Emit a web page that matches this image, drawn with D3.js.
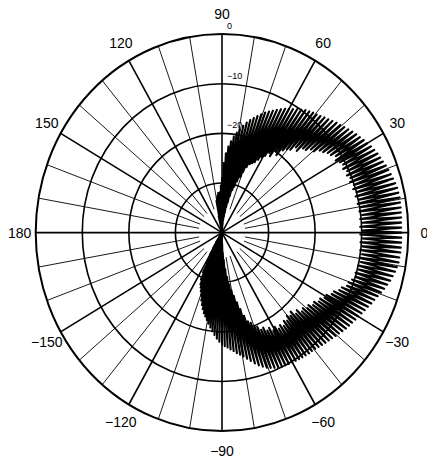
<!DOCTYPE html>
<html>
<head>
<meta charset="utf-8">
<script src="https://cdn.jsdelivr.net/npm/d3@7"></script>
<style>
  html, body { margin: 0; padding: 0; background: #fff; }
  svg { display: block; }
</style>
</head>
<body>
<svg id="chart" width="427" height="466"></svg>
<script>
// ---- data -------------------------------------------------------------
// angular tick labels (degrees)
const angleTicks = [0, 30, 60, 90, 120, 150, 180, -150, -120, -90, -60, -30];
const angleTickText = ["0", "30", "60", "90", "120", "150", "180", "\u2212150", "\u2212120", "\u221290", "\u221260", "\u221230"];
// level rings (dB) and their labels
const ringLevels = [0, -10, -20, -30];
const ringText = ["0", "\u221210", "\u221220", "\u221230"];

// measured pattern: lobe maxima every 1.5 deg starting at 102 deg,
// minima sit half-way between consecutive maxima
const peakStartDeg = 102;
const peakStepDeg = 1.5;
const peakDb = [
  -36.5, -33.5, -33.0, -32.5, -32.0, -32.2, -31.8, -30.5, -29.0, -26.0,
  -24.0, -22.6, -21.5, -20.5, -19.6, -18.8, -18.0, -17.2, -16.5, -15.9,
  -15.3, -14.7, -14.1, -13.6, -13.1, -12.6, -12.1, -11.6, -11.2, -10.8,
  -10.3, -9.9, -9.5, -9.2, -8.9, -8.7, -8.4, -8.0, -7.7, -7.3,
  -6.9, -6.6, -6.2, -5.8, -5.4, -5.0, -4.7, -4.3, -4.0, -3.6,
  -3.3, -3.0, -2.8, -2.6, -2.3, -2.1, -1.9, -1.7, -1.5, -1.3,
  -1.3, -1.2, -1.3, -1.3, -1.4, -1.4, -1.5, -1.5, -1.5, -1.5,
  -1.5, -1.5, -1.5, -1.6, -1.6, -1.8, -2.0, -2.3, -2.6, -3.0,
  -3.4, -3.8, -4.2, -4.6, -4.9, -5.3, -5.6, -5.9, -6.2, -6.4,
  -6.7, -6.9, -7.1, -7.4, -7.7, -7.9, -8.2, -8.4, -8.6, -8.8,
  -9.0, -9.2, -9.3, -9.3, -9.4, -9.5, -9.6, -9.7, -9.8, -9.9,
  -10.0, -10.1, -10.3, -10.5, -10.8, -11.1, -11.6, -12.1, -12.7, -13.4,
  -14.0, -14.6, -15.1, -15.5, -16.0, -16.4, -16.8, -17.1, -17.5, -18.0,
  -18.6, -19.3, -20.0, -20.7, -21.4, -22.1, -22.7, -23.3, -24.0, -24.8,
  -25.6, -26.5, -27.3, -28.0, -28.6, -29.5, -31.0, -33.0, -34.8, -36.3,
  -37.6, -38.8, -40.0
];
const dipDb = [
  -40.0, -40.0, -40.0, -40.0, -40.0, -40.0, -40.0, -40.0, -39.5, -39.0,
  -38.5, -37.5, -36.8, -36.0, -34.8, -33.8, -32.5, -31.2, -30.4, -29.2,
  -28.2, -27.0, -25.8, -25.0, -24.6, -24.2, -23.4, -22.6, -22.0, -21.0,
  -21.5, -20.0, -20.5, -18.9, -18.2, -17.8, -16.6, -17.0, -15.7, -15.5,
  -14.6, -14.4, -13.3, -12.9, -12.2, -11.9, -11.1, -11.6, -11.0, -10.6,
  -11.0, -10.4, -10.8, -10.3, -10.7, -10.1, -10.5, -10.0, -10.4, -9.9,
  -10.3, -9.8, -10.2, -9.7, -10.2, -9.8, -10.3, -9.9, -10.3, -9.8,
  -10.2, -9.7, -10.1, -9.6, -10.0, -9.6, -10.0, -9.7, -10.2, -10.0,
  -10.5, -11.0, -11.1, -12.0, -12.3, -13.2, -13.4, -14.3, -14.4, -15.1,
  -15.0, -15.8, -15.6, -16.4, -16.2, -16.9, -16.6, -17.6, -17.2, -18.3,
  -17.7, -18.2, -17.4, -17.8, -17.0, -17.6, -17.1, -17.9, -17.4, -18.3,
  -18.0, -18.9, -18.7, -19.6, -19.8, -20.8, -21.3, -22.6, -24.1, -25.6,
  -27.0, -28.2, -29.4, -31.0, -32.6, -34.5, -36.0, -37.8, -39.0, -40.0,
  -40.0, -40.0, -40.0, -40.0, -40.0, -40.0, -40.0, -40.0, -40.0, -40.0,
  -40.0, -40.0, -40.0, -40.0, -40.0, -40.0, -40.0, -40.0, -40.0, -40.0,
  -40.0, -40.0
];

// ---- layout -----------------------------------------------------------
const CX = 222, CY = 232.6;       // pole
const RX = 186.3, RY = 198.5;     // 0 dB ring (plot is drawn slightly tall)
const DB_MIN = -40, DB_MAX = 0;
const MINOR_START_DB = -35;       // where the 10-degree spokes begin
const FONT = "'Liberation Sans', Arial, Helvetica, sans-serif";

const svg = d3.select("#chart");

const rX = d3.scaleLinear().domain([DB_MIN, DB_MAX]).range([0, RX]).clamp(true);
const rY = d3.scaleLinear().domain([DB_MIN, DB_MAX]).range([0, RY]).clamp(true);
const rad = d => d * Math.PI / 180;
const px = (deg, db) => CX + rX(db) * Math.cos(rad(deg));
const py = (deg, db) => CY - rY(db) * Math.sin(rad(deg));

// ---- grid -------------------------------------------------------------
const grid = svg.append("g").attr("fill", "none").attr("stroke", "#000");

// minor spokes every 10 deg
const minorAngles = d3.range(0, 360, 10).filter(a => a % 30 !== 0);
grid.selectAll("line.minor")
  .data(minorAngles)
  .join("line")
  .attr("class", "minor")
  .attr("x1", a => px(a, MINOR_START_DB))
  .attr("y1", a => py(a, MINOR_START_DB))
  .attr("x2", a => px(a, DB_MAX))
  .attr("y2", a => py(a, DB_MAX))
  .attr("stroke-width", 0.9);

// major spokes every 30 deg through the pole
grid.selectAll("line.major")
  .data(angleTicks)
  .join("line")
  .attr("class", "major")
  .attr("x1", CX)
  .attr("y1", CY)
  .attr("x2", a => px(a, DB_MAX))
  .attr("y2", a => py(a, DB_MAX))
  .attr("stroke-width", 1.6);

// level rings
grid.selectAll("ellipse")
  .data(ringLevels)
  .join("ellipse")
  .attr("cx", CX)
  .attr("cy", CY)
  .attr("rx", d => rX(d))
  .attr("ry", d => rY(d))
  .attr("stroke-width", d => d === DB_MAX ? 2 : 1.6);

// ring labels along the 90 deg spoke
svg.append("g")
  .selectAll("text")
  .data(ringLevels)
  .join("text")
  .attr("x", CX + 5)
  .attr("y", d => CY - rY(d) - 5)
  .attr("font-family", FONT)
  .attr("font-size", 9)
  .attr("fill", "#000")
  .text((d, i) => ringText[i]);

// angle labels outside the outer ring
svg.append("g")
  .selectAll("text")
  .data(angleTicks)
  .join("text")
  .attr("x", a => CX + (RX + 16) * Math.cos(rad(a)))
  .attr("y", a => CY - (RY + 20) * Math.sin(rad(a)))
  .attr("text-anchor", "middle")
  .attr("dominant-baseline", "central")
  .attr("font-family", FONT)
  .attr("font-size", 14)
  .attr("fill", "#000")
  .text((a, i) => angleTickText[i]);

// ---- pattern trace ----------------------------------------------------
const samples = [];
peakDb.forEach((v, i) => {
  const a = peakStartDeg - i * peakStepDeg;
  samples.push([a, v]);
  if (i < dipDb.length) samples.push([a - peakStepDeg / 2, dipDb[i]]);
});

const trace = d3.line()
  .x(d => px(d[0], d[1]))
  .y(d => py(d[0], d[1]));

svg.append("path")
  .datum(samples)
  .attr("d", trace)
  .attr("fill", "none")
  .attr("stroke", "#000")
  .attr("stroke-width", 2.1)
  .attr("stroke-linejoin", "round");
</script>
</body>
</html>
